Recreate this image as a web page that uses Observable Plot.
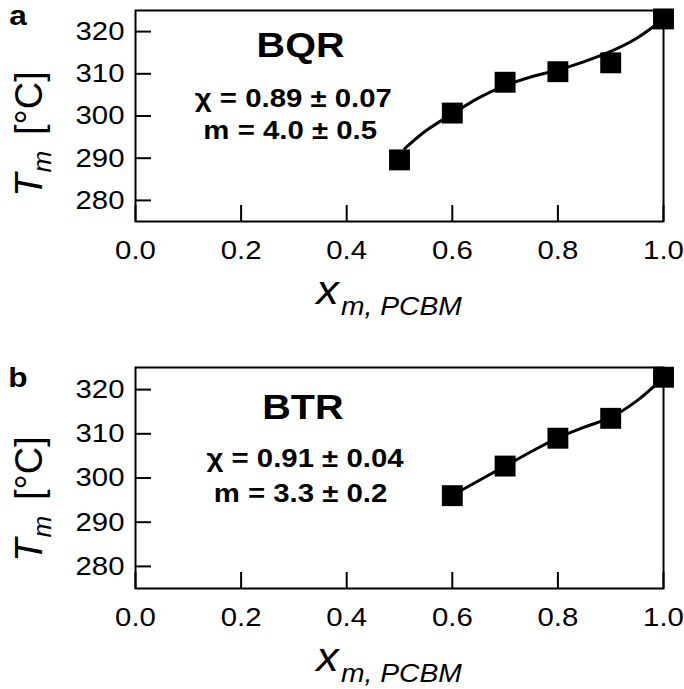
<!DOCTYPE html>
<html><head><meta charset="utf-8">
<script src="https://cdn.jsdelivr.net/npm/d3@7"></script>
<script src="https://cdn.jsdelivr.net/npm/@observablehq/plot@0.6"></script>
<style>
body{margin:0;background:#fff;}
#wrap{position:relative;width:684px;height:689px;}
#wrap svg{position:absolute;left:0;}
</style></head><body><div id="wrap"></div>
<script>
// ---- data ----
const xTicks = [0, 0.2, 0.4, 0.6, 0.8, 1.0];
const yTicks = [280, 290, 300, 310, 320];

// Panel a: BQR
const bqrX = [0.5, 0.6, 0.7, 0.8, 0.9, 1.0];
const bqrT = [289.6, 300.7, 308.0, 310.5, 312.6, 323.0];
const bqrFitX = [0.51, 0.55, 0.6, 0.65, 0.7, 0.75, 0.8, 0.85, 0.9, 0.95, 1.0];
const bqrFitT = [292.3, 296.5, 300.5, 304.3, 307.2, 309.3, 310.9, 312.9, 315.3, 318.5, 323.0];
const bqrNotes = ["BQR", "χ = 0.89 ± 0.07", "m = 4.0 ± 0.5"];
const bqrNoteX = [0.3125, 0.299, 0.293];
const bqrNoteT = [316.6, 304.2, 296.5];

// Panel b: BTR
const btrX = [0.6, 0.7, 0.8, 0.9, 1.0];
const btrT = [296.0, 302.7, 309.0, 313.5, 322.8];
const btrFitX = [0.62, 0.7, 0.75, 0.8, 0.85, 0.9, 0.95, 1.0];
const btrFitT = [297.4, 302.7, 306.0, 309.1, 311.5, 313.7, 317.5, 322.7];
const btrNotes = ["BTR", "χ = 0.91 ± 0.04", "m = 3.3 ± 0.2"];
const btrNoteX = [0.317, 0.321, 0.3125];
const btrNoteT = [315.9, 304.4, 296.5];

const FONT = "'Liberation Sans', Arial, Helvetica, sans-serif";
const SX = 1.13;

function panel(cfg) {
  const pts = cfg.px.map((x, i) => ({x, t: cfg.pt[i]}));
  const fit = cfg.fx.map((x, i) => ({x, t: cfg.ft[i]}));
  const notes = cfg.notes.map((s, i) => ({s, x: cfg.nx[i], t: cfg.nt[i]}));
  const svg = Plot.plot({
    width: 684, height: cfg.height,
    marginTop: cfg.marginTop, marginBottom: cfg.marginBottom,
    marginLeft: 135, marginRight: 21,
    style: {fontFamily: FONT, color: "#000", background: "transparent", overflow: "visible"},
    x: {domain: [0, 1]},
    y: {domain: [275, 325]},
    marks: [
      Plot.axisX(xTicks, {tickSize: -16, tickPadding: 35, strokeWidth: 2, fontSize: 26,
        tickFormat: d => d.toFixed(1), label: null}),
      Plot.axisY(yTicks, {tickSize: -16, tickPadding: 27, strokeWidth: 2, fontSize: 26, label: null}),
      Plot.frame({stroke: "#000", strokeWidth: 2}),
      Plot.line(fit, {x: "x", y: "t", curve: "catmull-rom", stroke: "#000", strokeWidth: 3}),
      Plot.dot(pts, {x: "x", y: "t", symbol: "square", r: 11.8, fill: "#000", stroke: null}),
      Plot.text(notes.slice(0, 1), {x: "x", y: "t", text: "s", fontSize: 35, fontWeight: "bold", fill: "#000"}),
      Plot.text(notes.slice(1), {x: "x", y: "t", text: "s", fontSize: 26, fontWeight: "bold", fill: "#000"})
    ]
  });
  // horizontal stretch of text to match the reference's wide lettering
  d3.select(svg).selectAll("text").each(function () {
    const t = this.getAttribute("transform");
    if (t) this.setAttribute("transform", t + ` scale(${SX},1)`);
  });
  const s = d3.select(svg);
  // panel letter
  s.append("text").attr("transform", `translate(18,${cfg.letterY}) scale(${SX},1)`)
    .attr("font-family", FONT).attr("font-size", 28).attr("font-weight", "bold").text(cfg.letter);
  // y label
  const yl = s.append("text").attr("transform", `translate(42,${cfg.ylabY}) rotate(-90)`)
    .attr("font-family", FONT).attr("text-anchor", "middle").attr("fill", "#000");
  yl.append("tspan").attr("font-size", 38).attr("font-style", "italic").text("T");
  yl.append("tspan").attr("font-size", 26).attr("font-style", "italic").attr("dy", 9).attr("dx", 1).text("m");
  yl.append("tspan").attr("font-size", 38).attr("dy", -9).attr("dx", 16).text("[°C]");
  // x label
  const xl = s.append("text").attr("transform", `translate(389,${cfg.xlabY}) scale(${SX},1)`)
    .attr("font-family", FONT).attr("text-anchor", "middle").attr("fill", "#000");
  xl.append("tspan").attr("font-size", 40).attr("font-style", "italic").text("x");
  xl.append("tspan").attr("font-size", 25).attr("font-style", "italic").attr("dy", 11).attr("dx", 2).text("m, PCBM");
  svg.style.top = cfg.top + "px";
  return svg;
}

const wrap = document.getElementById("wrap");
wrap.appendChild(panel({
  letter: "a", px: bqrX, pt: bqrT, fx: bqrFitX, ft: bqrFitT,
  notes: bqrNotes, nx: bqrNoteX, nt: bqrNoteT,
  top: 0, height: 340, marginTop: 10, marginBottom: 119,
  letterY: 25, ylabY: 134, xlabY: 304
}));
wrap.appendChild(panel({
  letter: "b", px: btrX, pt: btrT, fx: btrFitX, ft: btrFitT,
  notes: btrNotes, nx: btrNoteX, nt: btrNoteT,
  top: 340, height: 349, marginTop: 27, marginBottom: 101,
  letterY: 47, ylabY: 159, xlabY: 331
}));
</script></body></html>
